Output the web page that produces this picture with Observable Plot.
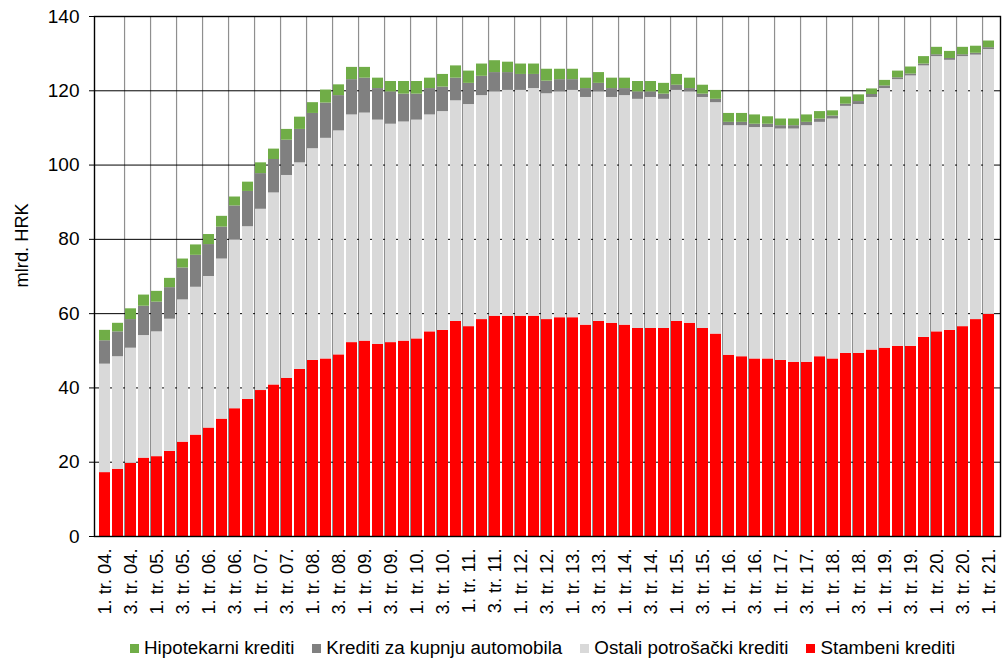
<!DOCTYPE html>
<html><head><meta charset="utf-8">
<script src="https://cdn.jsdelivr.net/npm/d3@7"></script>
<script src="https://cdn.jsdelivr.net/npm/@observablehq/plot@0.6"></script>
<style>
body{margin:0;background:#fff;font-family:"Liberation Sans",Arial,sans-serif;}
#legend{display:flex;align-items:center;padding-left:130px;height:40px;font-size:18.8px;color:#000;}
.item{display:flex;align-items:center;margin-right:18px;white-space:nowrap;}
.sw{width:9px;height:9px;margin-right:5px;flex:none;}
</style></head><body><div id="chart"></div><div id="legend"></div>
<script>
const quarters = [
"1. tr. 04.","2. tr. 04.","3. tr. 04.","4. tr. 04.",
"1. tr. 05.","2. tr. 05.","3. tr. 05.","4. tr. 05.",
"1. tr. 06.","2. tr. 06.","3. tr. 06.","4. tr. 06.",
"1. tr. 07.","2. tr. 07.","3. tr. 07.","4. tr. 07.",
"1. tr. 08.","2. tr. 08.","3. tr. 08.","4. tr. 08.",
"1. tr. 09.","2. tr. 09.","3. tr. 09.","4. tr. 09.",
"1. tr. 10.","2. tr. 10.","3. tr. 10.","4. tr. 10.",
"1. tr. 11.","2. tr. 11.","3. tr. 11.","4. tr. 11.",
"1. tr. 12.","2. tr. 12.","3. tr. 12.","4. tr. 12.",
"1. tr. 13.","2. tr. 13.","3. tr. 13.","4. tr. 13.",
"1. tr. 14.","2. tr. 14.","3. tr. 14.","4. tr. 14.",
"1. tr. 15.","2. tr. 15.","3. tr. 15.","4. tr. 15.",
"1. tr. 16.","2. tr. 16.","3. tr. 16.","4. tr. 16.",
"1. tr. 17.","2. tr. 17.","3. tr. 17.","4. tr. 17.",
"1. tr. 18.","2. tr. 18.","3. tr. 18.","4. tr. 18.",
"1. tr. 19.","2. tr. 19.","3. tr. 19.","4. tr. 19.",
"1. tr. 20.","2. tr. 20.","3. tr. 20.","4. tr. 20.",
"1. tr. 21."];

const stambeni = [17.2,18.1,19.7,21.1,21.5,22.9,25.4,27.3,29.2,31.6,
34.4,36.9,39.3,40.8,42.6,45.0,47.4,47.8,48.9,52.2,
52.6,51.7,52.2,52.6,53.2,55.1,55.5,57.9,56.5,58.4,
59.3,59.3,59.3,59.3,58.4,58.9,58.9,56.9,57.9,57.4,
56.9,56.0,56.0,56.0,57.9,57.4,56.0,54.5,48.8,48.4,
47.8,47.8,47.4,46.9,46.9,48.4,47.8,49.3,49.3,50.2,
50.7,51.2,51.2,53.6,55.1,55.5,56.5,58.4,59.8];

const ostali = [29.2,30.3,31.0,33.0,33.6,35.6,38.3,39.8,40.8,43.1,
45.5,46.5,48.8,51.7,54.6,55.6,57.0,59.4,60.3,61.3,
61.4,60.4,58.8,59.0,58.9,58.4,58.9,59.4,59.8,60.3,
60.4,60.8,60.8,61.3,60.8,60.8,61.2,61.3,61.8,60.8,
61.8,61.7,62.2,61.7,62.2,62.3,62.2,62.3,61.8,62.2,
62.3,62.3,62.3,62.8,63.7,63.1,64.6,66.5,67.0,68.0,
69.9,71.8,72.8,73.1,74.1,72.7,72.7,71.2,71.3];

const automobili = [6.3,6.7,7.7,7.9,8.0,8.5,8.6,8.6,8.6,8.6,
9.1,9.5,9.6,9.0,9.5,9.0,9.5,9.5,9.5,9.5,
9.4,8.5,8.7,7.5,7.0,7.1,6.6,6.1,5.7,5.2,
5.2,4.8,4.3,3.8,3.4,3.3,2.9,2.4,2.3,2.4,
1.9,2.0,1.5,1.4,1.4,0.9,0.9,0.9,0.9,0.9,
0.9,0.9,0.9,0.9,0.9,0.9,0.8,0.6,0.8,0.8,
0.7,0.5,0.5,0.5,0.5,0.5,0.5,0.5,0.5];

const hipotekarni = [2.8,2.3,2.9,3.0,2.9,2.5,2.4,2.8,2.7,2.9,
2.4,2.5,2.9,2.8,2.9,3.3,2.9,3.5,2.9,3.3,
2.9,2.8,2.8,3.4,3.4,2.8,3.4,3.3,3.3,3.3,
3.2,2.8,2.8,2.8,3.2,2.8,2.8,2.8,2.9,2.8,
2.8,2.8,2.8,2.9,2.9,2.8,2.4,2.4,2.4,2.4,
2.5,2.0,1.8,1.8,2.0,2.0,1.4,1.9,1.8,1.5,
1.5,1.8,1.9,2.0,2.0,1.9,2.0,1.9,1.8];

// stacking order bottom -> top
const seriesNames = ["Stambeni krediti","Ostali potrošački krediti","Krediti za kupnju automobila","Hipotekarni krediti"];
const seriesColors = ["#FF0000","#D9D9D9","#808080","#70AD47"];
const legendOrder = ["Hipotekarni krediti","Krediti za kupnju automobila","Ostali potrošački krediti","Stambeni krediti"];
const yTicks = [0,20,40,60,80,100,120,140];
const yLabel = "mlrd. HRK";

const seriesValues = [stambeni, ostali, automobili, hipotekarni];
const rows = [];
quarters.forEach((q, i) => {
  seriesNames.forEach((s, k) => rows.push({q, series: s, value: seriesValues[k][i]}));
});

const W = 1005, H = 628, mL = 94, mR = 5, mT = 16, mB = 92;
const step = (W - mL - mR) / quarters.length;
const shownTicks = quarters.filter((d, i) => i % 2 === 0);
const gridQ = quarters.filter((d, i) => i % 2 === 1 && i < quarters.length - 1);

const chart = Plot.plot({
  width: W, height: H, marginLeft: mL, marginRight: mR, marginTop: mT, marginBottom: mB,
  style: {fontFamily: "'Liberation Sans', Arial, sans-serif", fontSize: "18px", color: "#000", background: "#fff"},
  x: {type: "band", domain: quarters, paddingInner: 0.15, paddingOuter: 0.075, axis: null},
  y: {domain: [0, 140], axis: null},
  color: {domain: seriesNames, range: seriesColors},
  marks: [
    Plot.ruleX(gridQ, {x: d => d, dx: step / 2, stroke: "#8f8f8f", strokeWidth: 1.2}),
    Plot.ruleY(yTicks.slice(1, -1), {stroke: "#000", strokeWidth: 1}),
    Plot.barY(rows, {x: "q", y: "value", fill: "series", order: seriesNames}),
    Plot.frame({stroke: "#000", strokeWidth: 1.4}),
    Plot.axisY(yTicks, {tickSize: 5, tickPadding: 10, fontSize: 19, label: null, stroke: "#000"}),
    Plot.axisX(shownTicks, {tickRotate: -90, tickSize: 0, tickPadding: 12, fontSize: 18.3, label: null}),
    Plot.text([yLabel], {frameAnchor: "left", dx: -72, dy: 11, rotate: -90, fontSize: 18.3, fill: "#000"})
  ]
});
document.getElementById("chart").appendChild(chart);

const legend = document.getElementById("legend");
legendOrder.forEach(name => {
  const item = document.createElement("div");
  item.className = "item";
  const sw = document.createElement("span");
  sw.className = "sw";
  sw.style.background = seriesColors[seriesNames.indexOf(name)];
  const t = document.createElement("span");
  t.textContent = name;
  item.appendChild(sw); item.appendChild(t);
  legend.appendChild(item);
});
</script>
</body></html>
